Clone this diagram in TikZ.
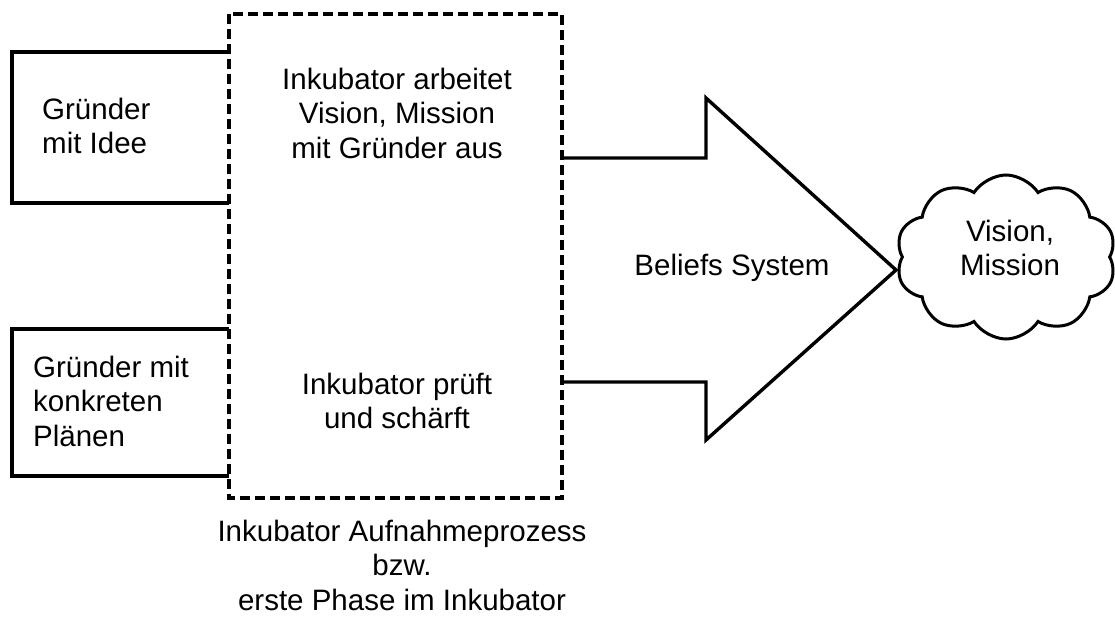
\documentclass[tikz,border=0pt]{standalone}
\usepackage{fontspec}
\setmainfont{Liberation Sans}
\usetikzlibrary{shapes.symbols}
\begin{document}
\begin{tikzpicture}[x=1pt,y=-1pt,
  outline/.style={line width=3.4pt, line join=miter},
  phasebox/.style={line width=3.4pt, dash pattern=on 10pt off 5pt},
  lbl/.style={font=\fontsize{29.5}{34.5}\selectfont, inner sep=0pt},
]
\useasboundingbox (0,0) rectangle (1115,618);

% founder boxes (their right sides lie under the dashed phase box)
\draw[outline] (229,52) -- (12,52) -- (12,203) -- (229,203);
\draw[outline] (229,329) -- (12,329) -- (12,476) -- (229,476);
\node[lbl, anchor=west, align=left] (idee) at (42,126) {Gründer\\mit Idee};
\node[lbl, anchor=west, align=left] (plaene) at (33,401) {Gründer mit\\konkreten\\Plänen};

% intake phase (dashed)
\draw[phasebox] (229,14) rectangle (562,498);
\node[lbl, align=center] (arbeitet) at (397,113) {Inkubator arbeitet\\Vision, Mission\\mit Gründer aus};
\node[lbl, align=center] (prueft) at (397,401) {Inkubator prüft\\und schärft};
\node[lbl, align=center] (phase) at (402,565) {Inkubator Aufnahmeprozess\\bzw.\\erste Phase im Inkubator};

% big arrow
\draw[outline] (562,158) -- (706,158) -- (706,98) -- (896,270) -- (706,440) -- (706,382) -- (562,382);
\node[lbl] (beliefs) at (732,268) {Beliefs System};

% cloud
\node[cloud, draw, line width=3pt, cloud puffs=10, cloud puff arc=115, aspect=1.35,
      minimum width=220pt, minimum height=164pt, inner sep=0pt] (cloud) at (1006,257) {};
\node[lbl, align=center] (vision) at (1010,248) {Vision,\\Mission};
\end{tikzpicture}
\end{document}
